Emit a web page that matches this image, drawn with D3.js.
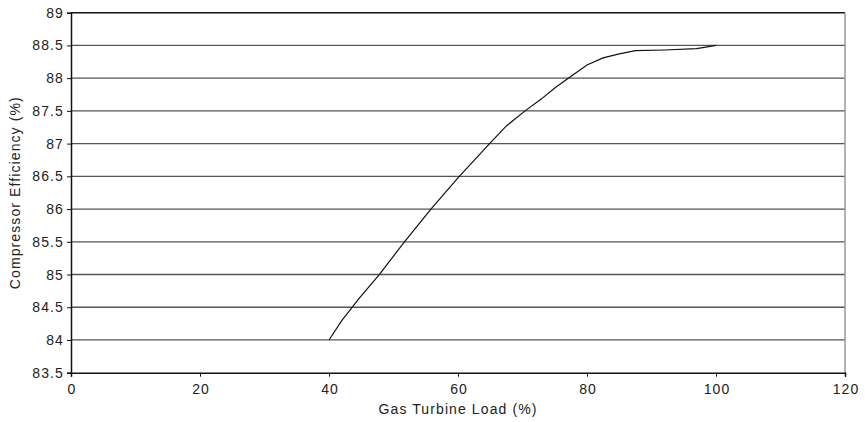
<!DOCTYPE html>
<html>
<head>
<meta charset="utf-8">
<script src="https://cdn.jsdelivr.net/npm/d3@7"></script>
<style>
  html, body { margin: 0; padding: 0; background: #fff; }
  svg { display: block; }
  text { font-family: "Liberation Sans", Arial, sans-serif; fill: #222; letter-spacing: 1.1px; }
</style>
</head>
<body>
<svg id="chart" width="865" height="422"></svg>
<script>
// Data
const loadPct = [40, 42, 44.8, 47.8, 51.7, 55.8, 60.2, 64.9, 67.5, 70.4, 72.9, 75, 77.1, 80, 82.5, 85, 87.5, 92, 97, 100];
const efficiencyPct = [84.0, 84.3, 84.65, 85.0, 85.5, 86.0, 86.5, 87.0, 87.27, 87.5, 87.68, 87.85, 88.0, 88.2, 88.31, 88.37, 88.42, 88.43, 88.45, 88.5];
const xTicks = [0, 20, 40, 60, 80, 100, 120];
const yTicks = [83.5, 84, 84.5, 85, 85.5, 86, 86.5, 87, 87.5, 88, 88.5, 89];
const xTitle = "Gas Turbine Load (%)";
const yTitle = "Compressor Efficiency (%)";

const svg = d3.select("#chart");
const mLeft = 71, mRight = 845, mTop = 12.7, mBottom = 372.7;

const x = d3.scaleLinear().domain([0, 120]).range([mLeft, mRight]);
const y = d3.scaleLinear().domain([83.5, 89]).range([mBottom, mTop]);

// Gridlines
svg.append("g")
  .selectAll("line")
  .data(yTicks.filter(d => d !== 83.5 && d !== 89))
  .join("line")
  .attr("x1", mLeft).attr("x2", mRight)
  .attr("y1", d => y(d)).attr("y2", d => y(d))
  .attr("stroke", "#555").attr("stroke-width", 1.3);

// Top border
svg.append("line")
  .attr("x1", mLeft).attr("x2", mRight)
  .attr("y1", y(89)).attr("y2", y(89))
  .attr("stroke", "#111").attr("stroke-width", 1.5);

// Right border
svg.append("line")
  .attr("x1", mRight).attr("x2", mRight)
  .attr("y1", mTop).attr("y2", mBottom)
  .attr("stroke", "#999").attr("stroke-width", 1.5);

// Axes
const xAxis = d3.axisBottom(x).tickValues(xTicks).tickSize(4).tickPadding(7).tickFormat(d3.format("d"));
const yAxis = d3.axisLeft(y).tickValues(yTicks).tickSize(4).tickPadding(3).tickFormat(d => String(d));

const gx = svg.append("g").attr("transform", `translate(0,${mBottom})`).call(xAxis);
const gy = svg.append("g").attr("transform", `translate(${mLeft},0)`).call(yAxis);

[gx, gy].forEach(g => {
  g.select(".domain").attr("stroke", "#111").attr("stroke-width", 1.5);
  g.selectAll(".tick line").attr("stroke", "#111").attr("stroke-width", 1);
  g.selectAll(".tick text").attr("font-size", 14).attr("fill", "#222")
    .attr("font-family", "Liberation Sans, Arial, sans-serif");
});
// compensate trailing letter-spacing for centered x labels
gx.selectAll(".tick text").attr("dx", "0.55px");

// Line
const pts = loadPct.map((d, i) => [d, efficiencyPct[i]]);
svg.append("path")
  .datum(pts)
  .attr("fill", "none")
  .attr("stroke", "#111")
  .attr("stroke-width", 1.2)
  .attr("d", d3.line().x(d => x(d[0])).y(d => y(d[1])));

// Titles
svg.append("text")
  .attr("x", (mLeft + mRight) / 2).attr("y", 414)
  .attr("text-anchor", "middle").attr("font-size", 14)
  .text(xTitle);

svg.append("text")
  .attr("transform", `translate(20,${(mTop + mBottom) / 2}) rotate(-90)`)
  .attr("text-anchor", "middle").attr("font-size", 14)
  .text(yTitle);
</script>
</body>
</html>
